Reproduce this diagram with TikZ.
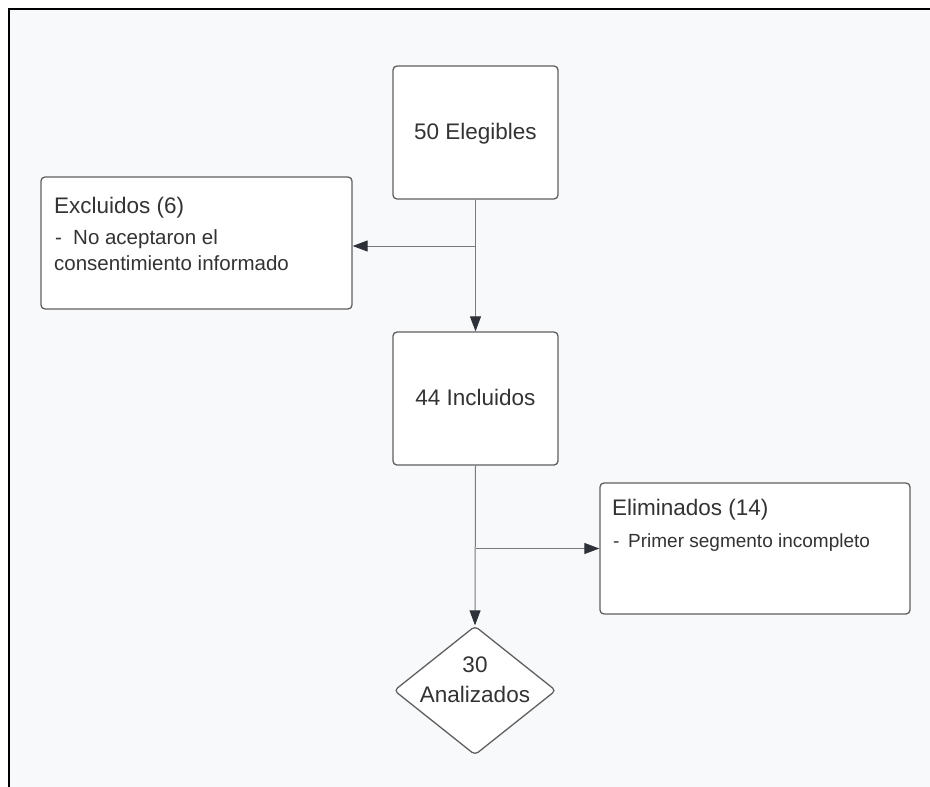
\documentclass[tikz,border=0pt]{standalone}
\usepackage{fontspec}
\setmainfont{Liberation Sans}
\usetikzlibrary{arrows.meta,shapes.geometric}
\definecolor{bg}{HTML}{F8F9FA}
\definecolor{txt}{HTML}{333333}
\definecolor{bord}{HTML}{5F5F5F}
\definecolor{conn}{HTML}{7A7A7A}
\definecolor{tipc}{HTML}{2E3238}
\begin{document}
\begin{tikzpicture}[x=1pt,y=-1pt,
  box/.style={draw=bord,line width=1.3pt,fill=white,rounded corners=4pt,inner sep=0pt},
  bigtxt/.style={text=txt,inner sep=0pt,font=\fontsize{22.5}{27}\selectfont},
  smalltxt/.style={text=txt,inner sep=0pt,font=\fontsize{20.5}{25}\selectfont},
  smallertxt/.style={text=txt,inner sep=0pt,font=\fontsize{19}{23}\selectfont},
  arr/.style={draw=conn,line width=1pt,-{Triangle[length=15pt,width=11pt,color=tipc]}}]
\useasboundingbox (0,0) rectangle (930,787);
\fill[bg] (9,9) rectangle (930,787);
\draw[line width=2pt,black] (9,787) -- (9,9) -- (930,9);

% boxes
\node[box,minimum width=165pt,minimum height=133pt] (eleg) at (475.5,132.5) {};
\node[bigtxt,anchor=base] (elegt) at (475.5,139) {50 Elegibles};

\node[box,minimum width=311pt,minimum height=132pt] (excl) at (196.5,243) {};
\node[bigtxt,anchor=base west] (exclt) at (54,213) {Excluidos (6)};
\node[smalltxt,anchor=base west] (excld) at (55,244) {-};
\node[smalltxt,anchor=base west] (excl1) at (73,244) {No aceptaron el};
\node[smalltxt,anchor=base west] (excl2) at (54,270) {consentimiento informado};

\node[box,minimum width=165pt,minimum height=133pt] (incl) at (475.5,398.5) {};
\node[bigtxt,anchor=base] (inclt) at (475.5,405) {44 Incluidos};

\node[box,minimum width=310pt,minimum height=131pt] (elim) at (755,548.5) {};
\node[bigtxt,anchor=base west] (elimt) at (612,515) {Eliminados (14)};
\node[smallertxt,anchor=base west] (elimd) at (613,547) {-};
\node[smallertxt,anchor=base west] (elim1) at (628,547) {Primer segmento incompleto};

\node[diamond,draw=bord,line width=1.3pt,fill=white,rounded corners=4pt,inner sep=0pt,
      minimum width=162pt,minimum height=129pt] (ana) at (475,690.5) {};
\node[bigtxt,anchor=base] (ana1) at (475,672) {30};
\node[bigtxt,anchor=base] (ana2) at (475,702) {Analizados};

% connectors
\draw[arr] (eleg.south) -- (incl.north);
\coordinate (j1) at (475.5,246);
\draw[arr] (j1) -- (j1 -| excl.east);
\draw[arr] (incl.south) -- (ana.north);
\draw[arr] (incl.south |- elim.west) -- (elim.west);
\end{tikzpicture}
\end{document}
